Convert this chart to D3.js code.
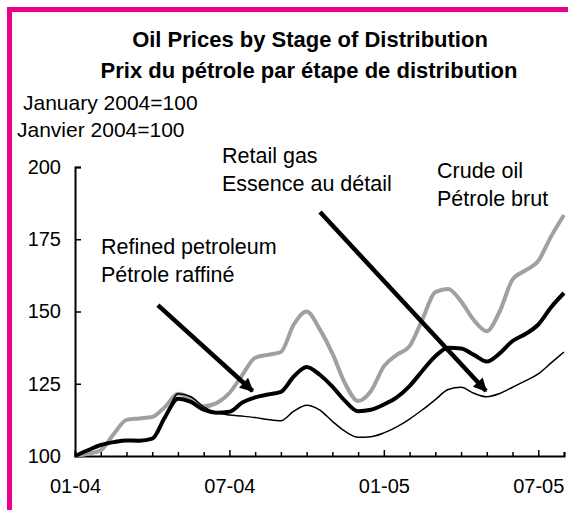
<!DOCTYPE html>
<html>
<head>
<meta charset="utf-8">
<script src="https://cdn.jsdelivr.net/npm/d3@7"></script>
<style>
  body { margin: 0; background: #fff; }
  text { font-family: "Liberation Sans", Arial, sans-serif; fill: #000; }
</style>
</head>
<body>
<svg width="568" height="510"></svg>
<script>
// oil price indexes, Jan 2004 = 100, read every half month from Jan 04 to Aug 05
var crude = [100, 100.8, 102, 107.5, 112.5, 113, 113.5, 117, 121.5, 120, 117.2, 118.3, 121.8,
  128, 134, 135, 136, 145.5, 150, 144, 135.5, 125, 119, 122.5, 131, 135, 138, 147.3,
  156.7, 157.8, 153.5, 147, 143.2, 150, 161, 164.2, 167.5, 176, 183.4];
var refined = [100, 102, 103.8, 104.8, 105.4, 105.3, 106, 113.5, 119.8, 118.7, 116, 115, 115.3,
  118.5, 120.3, 121.3, 122.2, 127.5, 130.8, 128.2, 124, 119, 115.5, 116, 117.8, 120.3, 124.2,
  129.5, 134.5, 137.5, 137.2, 135, 132.7, 135.5, 139.8, 142.2, 145.5, 151.5, 156.4];
var retail = [100, 101.8, 103.5, 104.8, 105.2, 105, 105.8, 113, 121.5, 120.5, 117, 115, 114.2,
  113.8, 113.3, 112.6, 112.2, 115.5, 117.6, 116, 112, 108.5, 106.5, 106.7, 108, 110.1, 112.8,
  116, 119.5, 123, 123.8, 121.7, 120.5, 121.6, 123.8, 126, 128.4, 132.2, 136];

var yTicks = [100, 125, 150, 175, 200];
var xLabels = ["01-04", "07-04", "01-05", "07-05"]; // at months 0, 6, 12, 18
var nMonths = 19;

var svg = d3.select("svg");

// pink frame, open to the right and bottom
svg.append("path")
  .attr("d", "M9.5,520V9.5H580")
  .attr("fill", "none")
  .attr("stroke", "#ec008c")
  .attr("stroke-width", 5);

var x = d3.scaleLinear().domain([0, nMonths]).range([75, 564]);
var y = d3.scaleLinear().domain([100, 200]).range([456, 167]);

// titles
svg.append("text").attr("x", 310).attr("y", 47).attr("text-anchor", "middle")
  .style("font-size", "22px").style("font-weight", "bold")
  .text("Oil Prices by Stage of Distribution");
svg.append("text").attr("x", 309).attr("y", 78).attr("text-anchor", "middle")
  .style("font-size", "22px").style("font-weight", "bold")
  .text("Prix du pétrole par étape de distribution");

svg.append("text").attr("x", 23).attr("y", 110).style("font-size", "21px").text("January 2004=100");
svg.append("text").attr("x", 17).attr("y", 137).style("font-size", "21px").text("Janvier 2004=100");

// axes
var yAxis = d3.axisLeft(y).tickValues(yTicks).tickSize(-6).tickPadding(14);
var yG = svg.append("g").attr("transform", "translate(75,0)").call(yAxis);

var xAxis = d3.axisBottom(x).tickValues(d3.range(0, nMonths + 1))
  .tickSize(-4).tickFormat("");
var xG = svg.append("g").attr("transform", "translate(0,456)").call(xAxis);
xG.selectAll(".tick line").filter(d => d % 6 == 0).attr("y2", -6);

xG.selectAll(".tick").filter(d => d % 6 == 0).append("text")
  .attr("y", 37)
  .attr("text-anchor", "middle")
  .style("font-size", "20px")
  .text(d => xLabels[d / 6]);

[yG, xG].forEach(function(g) {
  g.select(".domain").attr("stroke", "#000").attr("stroke-width", 2);
  g.selectAll(".tick line").attr("stroke", "#000").attr("stroke-width", 1.5);
});
yG.selectAll(".tick text").style("font-size", "20px").style("font-family", "Liberation Sans, Arial, sans-serif").attr("fill", "#000");

// lines
var line = d3.line()
  .x((d, i) => x(i / 2))
  .y(d => y(d))
  .curve(d3.curveMonotoneX);

svg.append("path").datum(crude).attr("d", line)
  .attr("fill", "none").attr("stroke", "#a0a0a0").attr("stroke-width", 4);
svg.append("path").datum(retail).attr("d", line)
  .attr("fill", "none").attr("stroke", "#000").attr("stroke-width", 1.5);
svg.append("path").datum(refined).attr("d", line)
  .attr("fill", "none").attr("stroke", "#000").attr("stroke-width", 4);

// labels and arrows
var notes = [
  { lines: ["Refined petroleum", "Pétrole raffiné"], x: 101, y: 254 },
  { lines: ["Retail gas", "Essence au détail"], x: 222, y: 163 },
  { lines: ["Crude oil", "Pétrole brut"], x: 437, y: 178 }
];
notes.forEach(function(n) {
  var t = svg.append("text").attr("x", n.x).attr("y", n.y).style("font-size", "21.5px");
  n.lines.forEach(function(s, i) {
    t.append("tspan").attr("x", n.x).attr("dy", i ? 28 : 0).text(s);
  });
});

svg.append("defs").append("marker")
  .attr("id", "head")
  .attr("viewBox", "0 0 10 10")
  .attr("refX", 9).attr("refY", 5)
  .attr("markerWidth", 3.6).attr("markerHeight", 3)
  .attr("markerUnits", "strokeWidth")
  .attr("orient", "auto")
  .append("path").attr("d", "M0,0L10,5L0,10z").attr("fill", "#000");

// arrows point at month positions on the lines
var arrows = [
  { from: [3.22, 152.2], to: [6.9, 122.5] },   // to refined
  { from: [9.52, 184.4], to: [15.97, 122.5] }  // to retail
];
arrows.forEach(function(a) {
  svg.append("line")
    .attr("x1", x(a.from[0])).attr("y1", y(a.from[1]))
    .attr("x2", x(a.to[0])).attr("y2", y(a.to[1]))
    .attr("stroke", "#000").attr("stroke-width", 4.5)
    .attr("marker-end", "url(#head)");
});
</script>
</body>
</html>
